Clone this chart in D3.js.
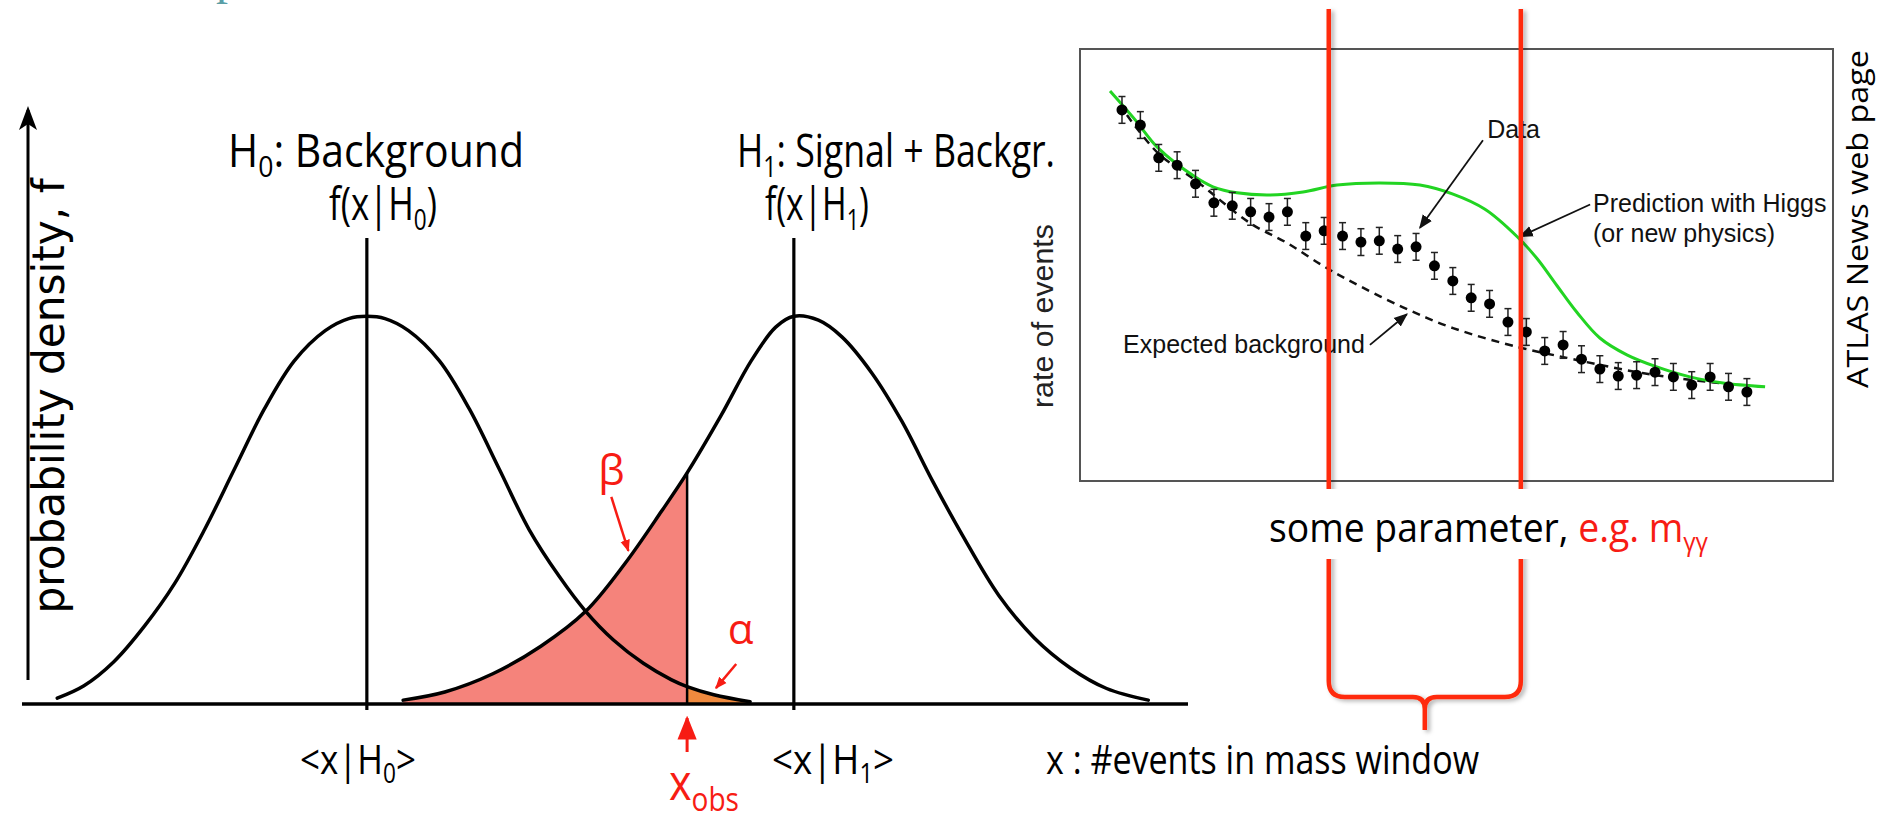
<!DOCTYPE html>
<html>
<head>
<meta charset="utf-8">
<script src="https://cdn.jsdelivr.net/npm/d3@7"></script>
<style>
  body { margin: 0; background: #ffffff; }
  svg { display: block; }
</style>
</head>
<body>
<div id="chart"></div>
<script>
const W = 1886, H = 824;

// ---------------------------------------------------------------------------------
// left panel : the two hypothesis pdfs, x in arbitrary units, f normalised to the peak
const h0Curve = [[0.10, 0.015], [0.35, 0.047], [0.63, 0.109], [0.92, 0.202], [1.20, 0.311],
                 [1.48, 0.450], [1.76, 0.606], [2.04, 0.761], [2.32, 0.885], [2.61, 0.963],
                 [2.83, 0.994], [3.00, 1.000], [3.17, 0.994], [3.39, 0.963], [3.68, 0.885],
                 [3.96, 0.761], [4.24, 0.606], [4.52, 0.450], [4.80, 0.330], [5.05, 0.239],
                 [5.31, 0.165], [5.59, 0.105], [5.85, 0.063], [6.00, 0.045], [6.25, 0.024],
                 [6.59, 0.006]];
const h1Curve = [[3.34, 0.010], [3.73, 0.031], [4.18, 0.078], [4.63, 0.149], [5.05, 0.239],
                 [5.42, 0.363], [5.76, 0.497], [6.00, 0.596], [6.32, 0.745], [6.60, 0.885],
                 [6.83, 0.972], [7.00, 1.000], [7.23, 0.990], [7.45, 0.947], [7.73, 0.854],
                 [8.01, 0.730], [8.30, 0.575], [8.58, 0.435], [8.92, 0.280], [9.25, 0.171],
                 [9.59, 0.093], [9.93, 0.040], [10.32, 0.010]];
const means = [3, 7];
const X_OBS = 6;

// right panel : rate of events vs. some parameter (bin index)
const binX  = [1, 2, 3, 4, 5, 6, 7, 8, 9, 10, 11, 12, 13, 14, 15, 16, 17, 18,
               19, 20, 21, 22, 23, 24, 25, 26, 27, 28, 29, 30, 31, 32, 33, 34, 35];
const rates = [85.9, 82.4, 74.8, 73.1, 68.8, 64.4, 63.7, 62.3, 61.1, 62.3, 56.7, 57.9,
               56.7, 55.3, 55.6, 53.7, 54.2, 49.8, 46.3, 42.4, 41.0, 36.8, 34.5, 30.1,
               31.5, 28.2, 25.9, 24.3, 24.5, 25.2, 24.1, 22.2, 24.1, 21.8, 20.6];
const errs  = [3.1, 3.1, 3.1, 3.1, 3.1, 3.1, 3.1, 3.1, 3.1, 3.1, 3.1, 3.1, 3.1, 3.1,
               3.1, 3.1, 3.1, 3.1, 3.1, 3.1, 3.1, 3.1, 3.1, 3.1, 3.1, 3.1, 3.1, 3.1,
               3.1, 3.1, 3.1, 3.1, 3.1, 3.1, 3.1];
const bkgCurve = [[1.27, 84.7], [2.96, 75.9], [4.97, 69.7], [7.97, 59.7], [9.98, 55.1],
                  [11.94, 49.8], [13.24, 46.7], [16.29, 40.2], [19.01, 35.4], [22.55, 31.0],
                  [25.21, 28.5], [27.0, 26.9], [29.02, 25.2], [31.2, 23.8], [33.92, 22.5]];
const sigCurve = [[0.35, 90.3], [1.72, 83.6], [2.96, 77.1], [4.97, 70.4], [5.95, 68.1],
                  [7.26, 66.7], [9.05, 66.2], [10.85, 66.9], [12.7, 68.5], [15.04, 69.0],
                  [17.21, 68.5], [19.01, 66.4], [20.75, 62.9], [22.49, 56.6], [23.58, 51.5],
                  [24.67, 45.2], [25.76, 39.0], [27.0, 33.1], [28.47, 29.2], [30.1, 26.4],
                  [31.9, 24.1], [33.7, 22.7], [35.99, 21.8]];
const windowBins = [12.25, 22.7];   // the two red lines (mass window)

// ---------------------------------------------------------------------------------
// layout
const BASE_X0 = 22, BASE_X1 = 1188;
const AXIS_X = 28, AXIS_TOP = 106, AXIS_BOTTOM = 680;
const MEAN_TOP = 238, MEAN_BOTTOM = 710;

const BOX_X0 = 1080, BOX_X1 = 1833, BOX_Y0 = 49, BOX_Y1 = 481;
const WIN_TOP = 9, WIN_BOTTOM = 697, WIN_TIP = 730;

const COLOR_RED = "#f71c14";
const COLOR_BRACKET = "#ff2a08";
const COLOR_PINK = "#f5837b";
const COLOR_ORANGE = "#f08a3e";
const COLOR_GREEN = "#22d422";

const FONT_CAL = "'Open Sans', 'Liberation Sans', sans-serif";
const FONT_HELV = "'Liberation Sans', Arial, sans-serif";

// ---------------------------------------------------------------------------------

const svg = d3.select("#chart").append("svg")
    .attr("width", W)
    .attr("height", H);

const defs = svg.append("defs");

function arrowMarker(id, color, size) {
    defs.append("marker")
        .attr("id", id)
        .attr("viewBox", "0 0 10 10")
        .attr("refX", 9).attr("refY", 5)
        .attr("markerWidth", size).attr("markerHeight", size)
        .attr("markerUnits", "userSpaceOnUse")
        .attr("orient", "auto")
      .append("path")
        .attr("d", "M0,1 L10,5 L0,9 Z")
        .attr("fill", color);
}
arrowMarker("arrRed", COLOR_RED, 12);
arrowMarker("arrRedBig", COLOR_RED, 24);
arrowMarker("arrBlack", "#111", 14);

defs.append("filter")
    .attr("id", "shadow")
    .attr("x", "-50%").attr("y", "-5%").attr("width", "200%").attr("height", "110%")
  .append("feDropShadow")
    .attr("dx", 3).attr("dy", 2)
    .attr("stdDeviation", 2)
    .attr("flood-color", "#000")
    .attr("flood-opacity", 0.3);

// teal remnant of the slide title, cut by the top edge
svg.append("text")
    .attr("x", 216).attr("y", -6.5)
    .attr("font-family", "'Liberation Serif', serif")
    .attr("font-size", 48)
    .attr("fill", "#5a9ea6")
    .text("p");

// ---------------------------------------------------------------------------------
// left panel

const xL = d3.scaleLinear().domain([0, 10]).range([46.6, 1114.1]);
const yL = d3.scaleLinear().domain([0, 1]).range([704, 316.3]);

const pdfLine = d3.line()
    .x(d => xL(d[0]))
    .y(d => yL(d[1]))
    .curve(d3.curveCatmullRom);

const pdfArea = d3.area()
    .x(d => xL(d[0]))
    .y0(yL(0))
    .y1(d => yL(d[1]))
    .curve(d3.curveCatmullRom);

// beta : H1 below x_obs, alpha : H0 above x_obs
svg.append("path")
    .attr("d", pdfArea(h1Curve.filter(d => d[0] <= X_OBS)))
    .attr("fill", COLOR_PINK);

svg.append("path")
    .attr("d", pdfArea(h0Curve.filter(d => d[0] >= X_OBS)))
    .attr("fill", COLOR_ORANGE);

// y axis with arrow
svg.append("line")
    .attr("x1", AXIS_X).attr("y1", AXIS_BOTTOM)
    .attr("x2", AXIS_X).attr("y2", AXIS_TOP + 4)
    .attr("stroke", "#000").attr("stroke-width", 3);
svg.append("path")
    .attr("d", `M${AXIS_X},${AXIS_TOP} L${AXIS_X - 9},${AXIS_TOP + 24} L${AXIS_X},${AXIS_TOP + 18} L${AXIS_X + 9},${AXIS_TOP + 24} Z`)
    .attr("fill", "#000");

// baseline
svg.append("line")
    .attr("x1", BASE_X0).attr("y1", yL(0))
    .attr("x2", BASE_X1).attr("y2", yL(0))
    .attr("stroke", "#000").attr("stroke-width", 3.5);

// mean lines
svg.selectAll(".mean")
    .data(means)
    .enter().append("line")
        .attr("class", "mean")
        .attr("x1", d => xL(d)).attr("y1", MEAN_TOP)
        .attr("x2", d => xL(d)).attr("y2", MEAN_BOTTOM)
        .attr("stroke", "#000").attr("stroke-width", 3.2);

// x_obs edge of the beta region
svg.append("line")
    .attr("x1", xL(X_OBS)).attr("y1", yL(0))
    .attr("x2", xL(X_OBS)).attr("y2", yL(h1Curve.find(d => d[0] === X_OBS)[1]))
    .attr("stroke", "#000").attr("stroke-width", 2.5);

[h0Curve, h1Curve].forEach(c => {
    svg.append("path")
        .attr("d", pdfLine(c))
        .attr("fill", "none")
        .attr("stroke", "#000")
        .attr("stroke-width", 3.5)
        .attr("stroke-linecap", "round");
});

// beta / alpha annotations
svg.append("text")
    .attr("x", xL(5.29)).attr("y", yL(0.565))
    .attr("text-anchor", "middle")
    .attr("font-family", FONT_CAL).attr("font-size", 42)
    .attr("fill", COLOR_RED)
    .text("β");
svg.append("line")
    .attr("x1", xL(5.29)).attr("y1", yL(0.534))
    .attr("x2", xL(5.45)).attr("y2", yL(0.395))
    .attr("stroke", COLOR_RED).attr("stroke-width", 2.5)
    .attr("marker-end", "url(#arrRed)");

svg.append("text")
    .attr("x", xL(6.5)).attr("y", yL(0.155))
    .attr("text-anchor", "middle")
    .attr("font-family", FONT_CAL).attr("font-size", 42)
    .attr("fill", COLOR_RED)
    .text("α");
svg.append("line")
    .attr("x1", xL(6.46)).attr("y1", yL(0.103))
    .attr("x2", xL(6.27)).attr("y2", yL(0.041))
    .attr("stroke", COLOR_RED).attr("stroke-width", 2.5)
    .attr("marker-end", "url(#arrRed)");

// x_obs arrow
svg.append("line")
    .attr("x1", xL(X_OBS)).attr("y1", 752)
    .attr("x2", xL(X_OBS)).attr("y2", 718)
    .attr("stroke", COLOR_RED).attr("stroke-width", 3)
    .attr("marker-end", "url(#arrRedBig)");

// helper for "main + subscript + rest" labels
function subLabel(x, y, parts, size, fill, anchor, len, family) {
    let t = svg.append("text")
        .attr("x", x).attr("y", y)
        .attr("text-anchor", anchor)
        .attr("font-family", family || FONT_CAL)
        .attr("font-size", size)
        .attr("fill", fill);
    if (len) t.attr("textLength", len).attr("lengthAdjust", "spacingAndGlyphs");
    let shift = 0;
    parts.forEach(p => {
        let dy = (p.sub ? size * 0.22 : 0) - shift;
        shift += dy;
        t.append("tspan")
            .attr("dy", dy)
            .attr("font-size", p.sub ? size * 0.65 : size)
            .attr("fill", p.fill || fill)
            .text(p.t);
    });
    return t;
}

subLabel(376, 167, [{t: "H"}, {t: "0", sub: true}, {t: ": Background"}], 46, "#000", "middle", 296);
subLabel(383, 220, [{t: "f(x|H"}, {t: "0", sub: true}, {t: ")"}], 46, "#000", "middle", 108);
subLabel(896, 167, [{t: "H"}, {t: "1", sub: true}, {t: ": Signal + Backgr."}], 46, "#000", "middle", 318);
subLabel(817, 220, [{t: "f(x|H"}, {t: "1", sub: true}, {t: ")"}], 46, "#000", "middle", 104);

subLabel(358, 774, [{t: "<x|H"}, {t: "0", sub: true}, {t: ">"}], 41, "#000", "middle", 116);
subLabel(833, 774, [{t: "<x|H"}, {t: "1", sub: true}, {t: ">"}], 41, "#000", "middle", 122);
subLabel(669, 800, [{t: "x"}, {t: "obs", sub: true}], 50, COLOR_RED, "start", 70);

svg.append("text")
    .attr("x", 1046).attr("y", 774)
    .attr("font-family", FONT_CAL).attr("font-size", 41)
    .attr("textLength", 433).attr("lengthAdjust", "spacingAndGlyphs")
    .text("x : #events in mass window");

svg.append("text")
    .attr("transform", "translate(64,396) rotate(-90)")
    .attr("text-anchor", "middle")
    .attr("font-family", "'DejaVu Sans', Verdana, sans-serif")
    .attr("font-size", 44)
    .attr("textLength", 435).attr("lengthAdjust", "spacingAndGlyphs")
    .text("probability density, f");

// ---------------------------------------------------------------------------------
// right panel

const xR = d3.scaleLinear().domain([0, 40]).range([1103.6, 1838.8]);
const yR = d3.scaleLinear().domain([0, 100]).range([BOX_Y1, BOX_Y0]);

svg.append("rect")
    .attr("x", BOX_X0).attr("y", BOX_Y0)
    .attr("width", BOX_X1 - BOX_X0).attr("height", BOX_Y1 - BOX_Y0)
    .attr("fill", "#fff")
    .attr("stroke", "#555").attr("stroke-width", 2);

const rateLine = d3.line()
    .x(d => xR(d[0]))
    .y(d => yR(d[1]))
    .curve(d3.curveCatmullRom);

svg.append("path")
    .attr("d", rateLine(bkgCurve))
    .attr("fill", "none")
    .attr("stroke", "#111").attr("stroke-width", 2.5)
    .attr("stroke-dasharray", "8,6");

svg.append("path")
    .attr("d", rateLine(sigCurve))
    .attr("fill", "none")
    .attr("stroke", COLOR_GREEN).attr("stroke-width", 3);

const pts = binX.map((b, i) => ({x: b, y: rates[i], e: errs[i]}));

let gPts = svg.append("g").selectAll("g")
    .data(pts)
    .enter().append("g");

gPts.append("line")
    .attr("x1", d => xR(d.x)).attr("x2", d => xR(d.x))
    .attr("y1", d => yR(d.y + d.e)).attr("y2", d => yR(d.y - d.e))
    .attr("stroke", "#222").attr("stroke-width", 1.5);
[1, -1].forEach(s => {
    gPts.append("line")
        .attr("x1", d => xR(d.x) - 3.5).attr("x2", d => xR(d.x) + 3.5)
        .attr("y1", d => yR(d.y + s * d.e)).attr("y2", d => yR(d.y + s * d.e))
        .attr("stroke", "#222").attr("stroke-width", 1.5);
});
gPts.append("circle")
    .attr("cx", d => xR(d.x)).attr("cy", d => yR(d.y))
    .attr("r", 5.5)
    .attr("fill", "#000");

// annotations inside the box
function note(x, y, lines) {
    let t = svg.append("text")
        .attr("font-family", FONT_HELV).attr("font-size", 25)
        .attr("fill", "#111");
    lines.forEach((l, i) => {
        t.append("tspan").attr("x", xR(x)).attr("y", yR(y) + i * 30).text(l);
    });
}
function pointer(x1, y1, x2, y2) {
    svg.append("line")
        .attr("x1", xR(x1)).attr("y1", yR(y1))
        .attr("x2", xR(x2)).attr("y2", yR(y2))
        .attr("stroke", "#111").attr("stroke-width", 1.8)
        .attr("marker-end", "url(#arrBlack)");
}
note(20.87, 79.4, ["Data"]);
pointer(20.64, 78.9, 17.21, 58.6);
note(26.63, 62.3, ["Prediction with Higgs", "(or new physics)"]);
pointer(26.47, 64.0, 22.66, 56.6);
note(1.06, 29.6, ["Expected background"]);
pointer(14.49, 31.5, 16.5, 38.6);

svg.append("text")
    .attr("transform", "translate(1053,316) rotate(-90)")
    .attr("text-anchor", "middle")
    .attr("font-family", FONT_HELV).attr("font-size", 30)
    .attr("fill", "#222")
    .attr("textLength", 184).attr("lengthAdjust", "spacingAndGlyphs")
    .text("rate of events");

svg.append("text")
    .attr("transform", "translate(1868,219) rotate(-90)")
    .attr("text-anchor", "middle")
    .attr("font-family", FONT_CAL).attr("font-size", 29)
    .attr("textLength", 338).attr("lengthAdjust", "spacingAndGlyphs")
    .text("ATLAS News web page");

// mass window lines + brace
const wl = xR(windowBins[0]), wr = xR(windowBins[1]), wm = (wl + wr) / 2;
svg.append("path")
    .attr("d", `M${wl},${WIN_TOP} V${WIN_BOTTOM - 16} Q${wl},${WIN_BOTTOM} ${wl + 16},${WIN_BOTTOM} H${wm - 12} Q${wm},${WIN_BOTTOM} ${wm},${WIN_BOTTOM + 12} V${WIN_TIP}` +
                ` M${wr},${WIN_TOP} V${WIN_BOTTOM - 16} Q${wr},${WIN_BOTTOM} ${wr - 16},${WIN_BOTTOM} H${wm + 12} Q${wm},${WIN_BOTTOM} ${wm},${WIN_BOTTOM + 12}`)
    .attr("fill", "none")
    .attr("stroke", COLOR_BRACKET).attr("stroke-width", 4.5)
    .attr("filter", "url(#shadow)");

// axis title of the right panel, on white so it cuts the red lines
svg.append("rect")
    .attr("x", 1262).attr("y", 489)
    .attr("width", 455).attr("height", 70)
    .attr("fill", "#fff");
subLabel(1269, 542, [{t: "some parameter, "}, {t: "e.g. m", fill: COLOR_RED}, {t: "γγ", sub: true, fill: COLOR_RED}],
         40, "#000", "start", 439);
</script>
</body>
</html>
